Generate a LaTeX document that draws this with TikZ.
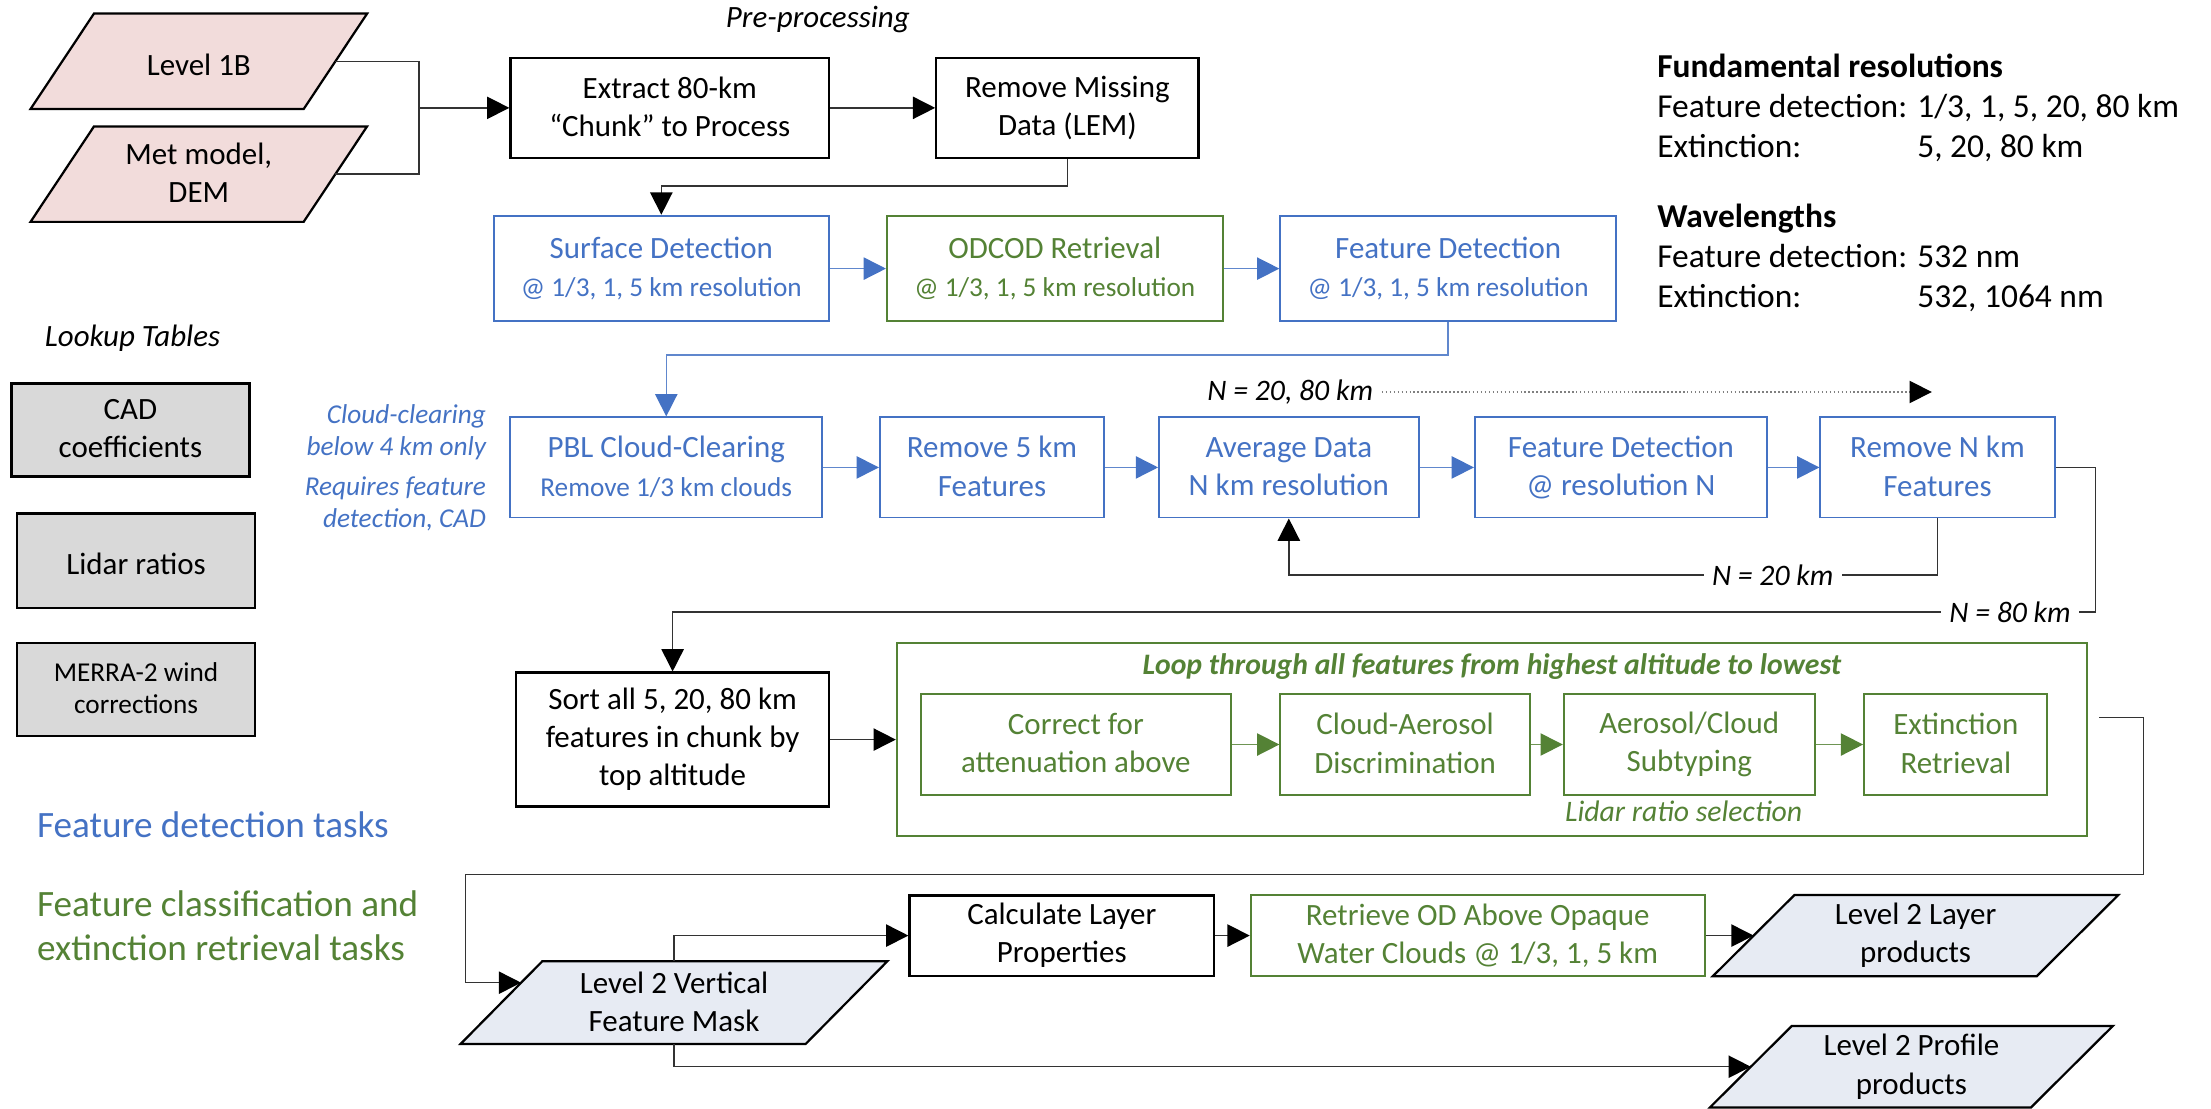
\documentclass[tikz,border=0pt]{standalone}
\usepackage{fontspec}
\setmainfont{Carlito}
\usetikzlibrary{arrows.meta,calc,backgrounds}
\definecolor{tblue}{HTML}{4472C4}
\definecolor{tgreen}{HTML}{548235}
\definecolor{tpink}{HTML}{F2DCDB}
\definecolor{tgray}{HTML}{D9D9D9}
\definecolor{tpale}{HTML}{E7EBF3}
\definecolor{tline}{HTML}{333333}
\newcommand{\boxfont}{\fontsize{12.5}{15.4}\selectfont}
\newcommand{\resfont}{\fontsize{11}{13}\selectfont}
\newcommand{\notefont}{\fontsize{11}{13}\selectfont\itshape}
\newcommand{\labfont}{\fontsize{12}{14}\selectfont\itshape}
\newcommand{\infofont}{\fontsize{13.5}{16.2}\selectfont}
\newcommand{\legfont}{\fontsize{15}{17.6}\selectfont}
\newcommand{\paragram}[3]{%
	\draw[line width=0.9pt, fill=#3] ($(#1.north west)+(#2,0)$) coordinate (#1-tl) -- ($(#1.north east)+(#2,0)$) coordinate (#1-tr)
		-- ($(#1.south east)-(#2,0)$) coordinate (#1-br) -- ($(#1.south west)-(#2,0)$) coordinate (#1-bl) -- cycle;}

\begin{document}
\begin{tikzpicture}[x=0.02cm, y=-0.02cm,
	sz/.style 2 args={minimum width=#1*0.02cm, minimum height=#2*0.02cm},
	base/.style={align=center, inner sep=1pt, font=\boxfont, execute at begin node={\rule{0pt}{12.5pt}}, execute at end node={\rule[-1pt]{0pt}{1pt}}},
	blkbox/.style={base, draw, line width=0.9pt},
	bluebox/.style={base, draw=tblue, text=tblue, line width=0.8pt},
	grnbox/.style={base, draw=tgreen, text=tgreen, line width=0.8pt},
	lutbox/.style={base, draw, fill=tgray, line width=1pt},
	para/.style={base},
	note/.style={font=\notefont, align=right, text=tblue, anchor=east, inner sep=0pt},
	conn/.style={draw=tline, line width=0.6pt, -{Triangle[length=9pt,width=9pt,color=black]}},
	bconn/.style={draw=tblue!85, line width=0.6pt, -{Triangle[length=9pt,width=9pt,color=tblue]}},
	gconn/.style={draw=tgreen!85, line width=0.6pt, -{Triangle[length=9pt,width=9pt,color=tgreen]}},
	plain/.style={draw=tline, line width=0.6pt}]
	\useasboundingbox (0,0) rectangle (1568,786);

	\node[para, sz={193}{67}] (l1b) at (141,43.5) {Level 1B};
	\node[para, sz={193}{67}] (met) at (141,123.5) {Met model,\\DEM};
	\node[font=\boxfont\itshape] (prep) at (580,14) {Pre-processing};
	\node[blkbox, sz={226}{71}] (extract) at (475,76.5) {Extract 80-km\\“Chunk” to Process};
	\node[blkbox, sz={186}{71}] (rmiss) at (757,76.5) {Remove Missing\\Data (LEM)};

	\node[bluebox, sz={238}{75}] (surf) at (469,190.5) {Surface Detection\\{\resfont @ 1/3, 1, 5 km resolution}};
	\node[grnbox, sz={238}{75}] (odcod) at (748,190.5) {ODCOD Retrieval\\{\resfont @ 1/3, 1, 5 km resolution}};
	\node[bluebox, sz={238}{75}] (fdet) at (1027,190.5) {Feature Detection\\{\resfont @ 1/3, 1, 5 km resolution}};

	\node[anchor=base west, font=\infofont, inner sep=0pt] (info) at (1175,55) {\begin{tabular}[t]{@{}l@{ }l@{}}
		\multicolumn{2}{@{}l}{\textbf{Fundamental resolutions}}\\
		Feature detection: & 1/3, 1, 5, 20, 80 km\\
		Extinction: & 5, 20, 80 km\\[12pt]
		\multicolumn{2}{@{}l}{\textbf{Wavelengths}}\\
		Feature detection: & 532 nm\\
		Extinction: & 532, 1064 nm
	\end{tabular}};

	\node[font=\boxfont\itshape] (luttitle) at (94,240) {Lookup Tables};
	\node[lutbox, sz={169}{66}] (lut1) at (92.5,305) {CAD\\coefficients};
	\node[lutbox, sz={169}{67}] (lut2) at (96.5,397.5) {Lidar ratios};
	\node[lutbox, sz={169}{66}, font=\resfont] (lut3) at (96.5,489) {MERRA-2 wind\\corrections};

	\node[note] (note1) at (345,306.5) {Cloud-clearing\\below 4 km only};
	\node[note] (note2) at (345,357.5) {Requires feature\\detection, CAD};

	\node[bluebox, sz={221}{71}] (pbl) at (472.5,331.5) {PBL Cloud-Clearing\\{\resfont Remove 1/3 km clouds}};
	\node[bluebox, sz={159}{71}] (rm5) at (703.5,331.5) {Remove 5 km\\Features};
	\node[bluebox, sz={184}{71}] (avg) at (914,331.5) {Average Data\\N km resolution};
	\node[bluebox, sz={207}{71}] (fdetn) at (1149.5,331.5) {Feature Detection\\@ resolution N};
	\node[bluebox, sz={166}{71}] (rmn) at (1374,331.5) {Remove N km\\Features};
	\node[font=\labfont] (nall) at (915,278) {N = 20, 80 km};
	\coordinate (dotend) at (1370,278);

	\node[blkbox, sz={222}{95}] (sort) at (477,524.5) {Sort all 5, 20, 80 km\\features in chunk by\\top altitude};
	\node[grnbox, sz={844}{137}] (loop) at (1058,524.5) {};
	\node[font=\labfont\bfseries, text=tgreen] (looptitle) at (1058,473) {Loop through all features from highest altitude to lowest};
	\node[grnbox, sz={220}{72}] (corr) at (763,528) {Correct for\\attenuation above};
	\node[grnbox, sz={177}{72}] (cad) at (996.5,528) {Cloud-Aerosol\\Discrimination};
	\node[grnbox, sz={178}{72}] (sub) at (1198,528) {Aerosol/Cloud\\Subtyping};
	\node[grnbox, sz={130}{72}] (ext) at (1387,528) {Extinction\\Retrieval};
	\node[font=\labfont, text=tgreen] (lrsel) at (1194,575) {Lidar ratio selection};

	\node[anchor=west, font=\legfont, text=tblue, inner sep=0pt] (legb) at (26,585) {Feature detection tasks};
	\node[anchor=west, font=\legfont, text=tgreen, align=left, inner sep=0pt] (legg) at (26,656.5) {Feature classification and\\extinction retrieval tasks};

	\node[para, sz={244}{58}] (vfm) at (478,711) {Level 2 Vertical\\Feature Mask};
	\node[blkbox, sz={216}{57}] (calc) at (753,663.5) {Calculate Layer\\Properties};
	\node[grnbox, sz={322}{57}] (rod) at (1048,663.5) {Retrieve OD Above Opaque\\Water Clouds @ 1/3, 1, 5 km};
	\node[para, sz={229}{57}] (l2l) at (1358.5,663.5) {Level 2 Layer\\products};
	\node[para, sz={227}{57}] (l2p) at (1355.5,756.5) {Level 2 Profile\\products};

	\begin{scope}[on background layer]
		\paragram{l1b}{22.5}{tpink}
		\paragram{met}{22.5}{tpink}
		\paragram{vfm}{29}{tpale}
		\paragram{l2l}{29}{tpale}
		\paragram{l2p}{29}{tpale}
	\end{scope}

	\coordinate (join) at (297,76.5);
	\draw[plain] (l1b.east) -| (join) |- (met.east);
	\draw[conn] (join) -- (extract.west);
	\draw[conn] (extract) -- (rmiss);
	\draw[conn] (rmiss.south) -- ++(0,19) -| (surf.north);
	\draw[bconn] (surf) -- (odcod);
	\draw[bconn] (odcod) -- (fdet);
	\draw[bconn] (fdet.south) -- ++(0,23) -| (pbl.north);
	\draw[bconn] (pbl) -- (rm5);
	\draw[bconn] (rm5) -- (avg);
	\draw[bconn] (avg) -- (fdetn);
	\draw[bconn] (fdetn) -- (rmn);
	\draw[conn, draw=gray, densely dotted] (nall) -- (dotend);
	\draw[conn] (rmn.south) -- ++(0,40) -| node[pos=0.127, fill=white, font=\labfont] (n20) {N = 20 km} (avg.south);
	\coordinate (c80) at (1486,434);
	\draw[conn] (rmn.east) -| (c80) -| node[pos=0.03, fill=white, font=\labfont] (n80) {N = 80 km} (sort.north);

	\draw[conn] (sort) -- (loop);
	\draw[gconn] (corr) -- (cad);
	\draw[gconn] (cad) -- (sub);
	\draw[gconn] (sub) -- (ext);

	\coordinate (lout) at ($(loop.east)+(8,-15.5)$);
	\coordinate (c2) at (1520,620);
	\coordinate (c3) at (330,620);
	\coordinate (vfmin) at ($(vfm-tl)!0.26!(vfm-bl)$);
	\draw[conn] (lout) -| (c2) -- (c3) |- (vfmin);
	\draw[conn] (vfm.north) |- (calc.west);
	\draw[conn] (calc) -- (rod);
	\draw[conn] (rod) -- (l2l.west);
	\draw[conn] (vfm.south) |- (l2p.west);
\end{tikzpicture}
\end{document}
